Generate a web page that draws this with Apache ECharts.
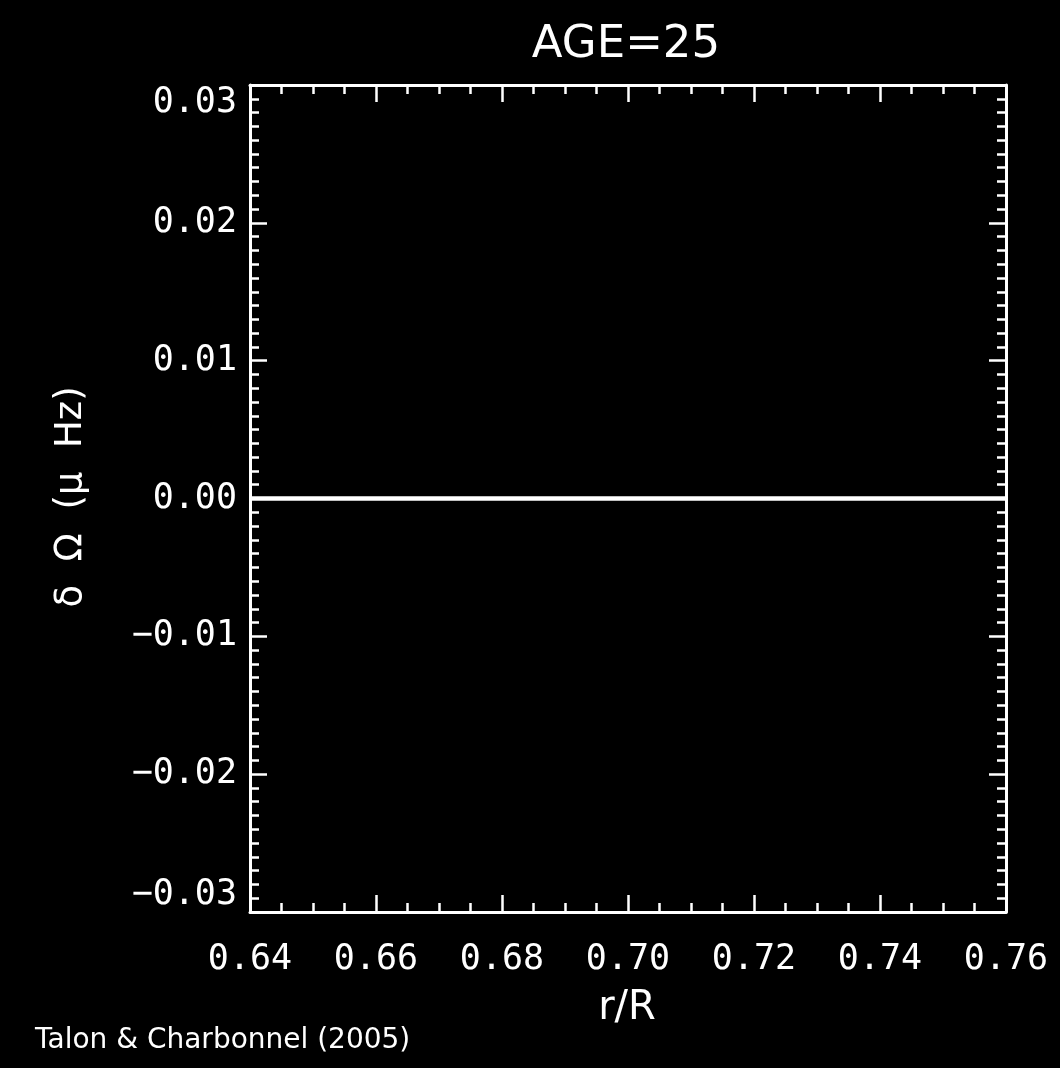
<!DOCTYPE html>
<html>
<head>
<meta charset="utf-8">
<title>AGE=25</title>
<script src="https://cdn.jsdelivr.net/npm/echarts@6/dist/echarts.min.js"></script>
<style>
  html, body { margin: 0; padding: 0; background: #000; }
  #chart { width: 1060px; height: 1068px; }
</style>
</head>
<body>
<div id="chart"></div>
<script>
// Radial profile of the rotation-rate perturbation at age 25
const radius = [0.64, 0.66, 0.68, 0.70, 0.72, 0.74, 0.76];   // r/R
const deltaOmega = [0, 0, 0, 0, 0, 0, 0];                     // δΩ (μHz)

const xTicks = { min: 0.64, max: 0.76, step: 0.02 };
const yTicks = { min: -0.03, max: 0.03, step: 0.01 };

const titleText = 'AGE=25';
const xName = 'r/R';
const yName = 'δ  Ω  (μ  Hz)';
const creditText = 'Talon & Charbonnel (2005)';

const ink = '#ffffff';
const tickFont = '"DejaVu Sans Mono", monospace';
const textFont = '"DejaVu Sans", sans-serif';

function fmt(v) {
  const s = (Math.abs(v) < 1e-9 ? 0 : v).toFixed(2);
  return s.replace('-', '\u2212');
}

function frameAxis(extra, minorSplit) {
  return Object.assign({
    type: 'value',
    axisLine: { show: true, onZero: false, lineStyle: { color: ink, width: 3 } },
    axisTick: { show: true, inside: true, length: 17, lineStyle: { color: ink, width: 2.5 } },
    minorTick: { show: true, splitNumber: minorSplit, length: 9, lineStyle: { color: ink, width: 2.5 } },
    splitLine: { show: false },
    minorSplitLine: { show: false }
  }, extra);
}

const chart = echarts.init(document.getElementById('chart'), null, { renderer: 'canvas' });

chart.setOption({
  backgroundColor: '#000000',
  animation: false,
  grid: { left: 250, top: 85, width: 756, height: 827, containLabel: false },
  xAxis: [
    frameAxis({
      position: 'bottom',
      min: xTicks.min, max: xTicks.max, interval: xTicks.step,
      axisLabel: {
        show: true, color: ink, fontFamily: tickFont, fontSize: 35, margin: 30,
        formatter: fmt, showMinLabel: true, showMaxLabel: true
      }
    }, 4),
    frameAxis({
      position: 'top',
      min: xTicks.min, max: xTicks.max, interval: xTicks.step,
      axisLabel: { show: false }
    }, 4)
  ],
  yAxis: [
    frameAxis({
      position: 'left',
      min: yTicks.min, max: yTicks.max, interval: yTicks.step,
      axisLabel: {
        show: true, color: ink, fontFamily: tickFont, fontSize: 35, margin: 13,
        formatter: fmt, showMinLabel: true, showMaxLabel: true,
        verticalAlignMinLabel: 'bottom', verticalAlignMaxLabel: 'top'
      }
    }, 10),
    frameAxis({
      position: 'right',
      min: yTicks.min, max: yTicks.max, interval: yTicks.step,
      axisLabel: { show: false }
    }, 10)
  ],
  series: [{
    type: 'line',
    xAxisIndex: 0,
    yAxisIndex: 0,
    data: radius.map((r, i) => [r, deltaOmega[i]]),
    showSymbol: false,
    lineStyle: { color: ink, width: 4.5 },
    clip: true,
    z: 5
  }],
  graphic: [
    {
      type: 'text',
      x: 626, y: 45,
      style: { text: titleText, fill: ink, fontFamily: textFont, fontSize: 45, align: 'center', verticalAlign: 'middle' }
    },
    {
      type: 'text',
      x: 627, y: 1009,
      style: { text: xName, fill: ink, fontFamily: textFont, fontSize: 40, align: 'center', verticalAlign: 'middle' }
    },
    {
      type: 'text',
      x: 71, y: 497, rotation: Math.PI / 2,
      style: { text: yName, fill: ink, fontFamily: textFont, fontSize: 37, align: 'center', verticalAlign: 'middle' }
    },
    {
      type: 'text',
      x: 35, y: 1041,
      style: { text: creditText, fill: ink, fontFamily: textFont, fontSize: 28, align: 'left', verticalAlign: 'middle' }
    }
  ]
});
</script>
</body>
</html>
